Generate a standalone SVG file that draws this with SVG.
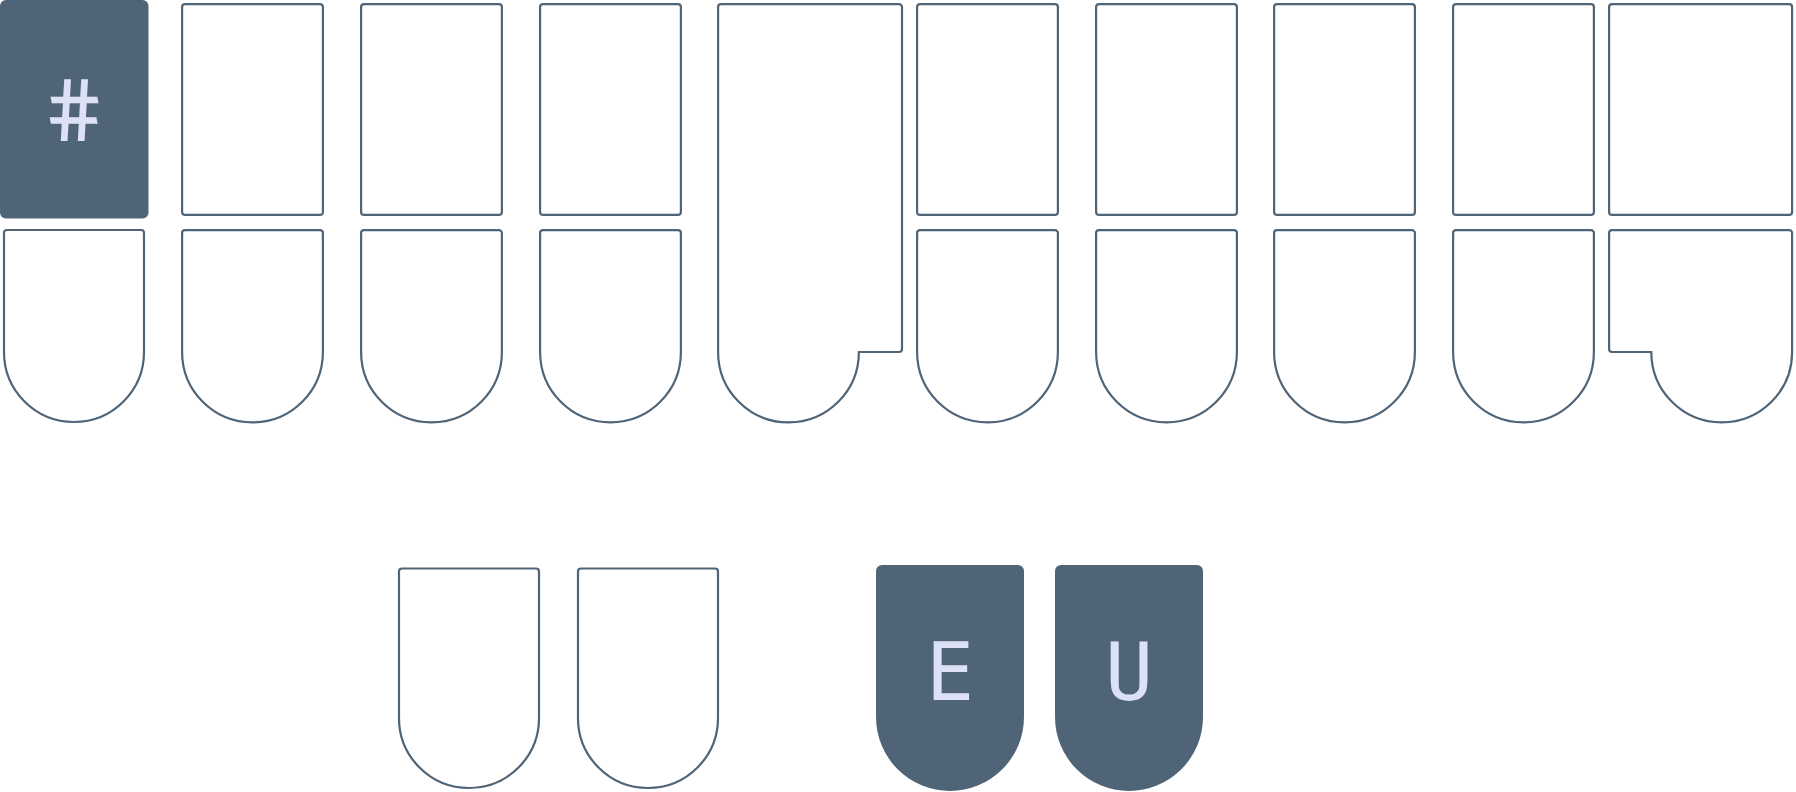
<svg xmlns="http://www.w3.org/2000/svg" width="1796" height="792" viewBox="0 0 1796 792">
<style>
.k{fill:#ffffff;stroke:#4f6477;stroke-width:2.2}
.f{fill:#4f6477;stroke:none}
.t{fill:#dde1f5;font-family:"DejaVu Sans Mono",monospace;font-size:80px;text-anchor:middle}
</style>
<rect width="1796" height="792" fill="#ffffff"/>
<g id="connectors"/>
<g id="key-num"><rect class="f" x="0" y="0" width="148.5" height="218.5" rx="6"/><text class="t" x="74" y="141" style="font-size:86px" transform="translate(74,110) skewX(11) translate(-74,-110)">#</text></g>
<g id="key-S-lower"><path class="k" d="M7,230 H141 a3,3 0 0 1 3,3 V352 a70,70 0 0 1 -140,0 V233 a3,3 0 0 1 3,-3 Z"/></g>
<g id="key-T"><rect class="k" x="182.1" y="4.1" width="140.8" height="210.8" rx="3"/></g>
<g id="key-K"><path class="k" d="M185.1,230.1 H319.9 a3,3 0 0 1 3,3 V352 a70.4,70.4 0 0 1 -140.8,0 V233.1 a3,3 0 0 1 3,-3 Z"/></g>
<g id="key-P"><rect class="k" x="361.1" y="4.1" width="140.8" height="210.8" rx="3"/></g>
<g id="key-W"><path class="k" d="M364.1,230.1 H498.9 a3,3 0 0 1 3,3 V352 a70.4,70.4 0 0 1 -140.8,0 V233.1 a3,3 0 0 1 3,-3 Z"/></g>
<g id="key-H"><rect class="k" x="540.1" y="4.1" width="140.8" height="210.8" rx="3"/></g>
<g id="key-R"><path class="k" d="M543.1,230.1 H677.9 a3,3 0 0 1 3,3 V352 a70.4,70.4 0 0 1 -140.8,0 V233.1 a3,3 0 0 1 3,-3 Z"/></g>
<g id="key-star"><path class="k" d="M721.1,4.1 H899 a3,3 0 0 1 3,3 V349 a3,3 0 0 1 -3,3 H858.9 a70.4,70.4 0 0 1 -140.8,0 V7.1 a3,3 0 0 1 3,-3 Z"/></g>
<g id="key-F"><rect class="k" x="917.1" y="4.1" width="140.8" height="210.8" rx="3"/></g>
<g id="key-R2"><path class="k" d="M920.1,230.1 H1054.9 a3,3 0 0 1 3,3 V352 a70.4,70.4 0 0 1 -140.8,0 V233.1 a3,3 0 0 1 3,-3 Z"/></g>
<g id="key-P2"><rect class="k" x="1096.1" y="4.1" width="140.8" height="210.8" rx="3"/></g>
<g id="key-B"><path class="k" d="M1099.1,230.1 H1233.9 a3,3 0 0 1 3,3 V352 a70.4,70.4 0 0 1 -140.8,0 V233.1 a3,3 0 0 1 3,-3 Z"/></g>
<g id="key-L"><rect class="k" x="1274.1" y="4.1" width="140.8" height="210.8" rx="3"/></g>
<g id="key-G"><path class="k" d="M1277.1,230.1 H1411.9 a3,3 0 0 1 3,3 V352 a70.4,70.4 0 0 1 -140.8,0 V233.1 a3,3 0 0 1 3,-3 Z"/></g>
<g id="key-T2"><rect class="k" x="1453.1" y="4.1" width="140.8" height="210.8" rx="3"/></g>
<g id="key-S2"><path class="k" d="M1456.1,230.1 H1590.9 a3,3 0 0 1 3,3 V352 a70.4,70.4 0 0 1 -140.8,0 V233.1 a3,3 0 0 1 3,-3 Z"/></g>
<g id="key-D"><rect class="k" x="1609.1" y="4.1" width="183" height="210.8" rx="3"/></g>
<g id="key-Z"><path class="k" d="M1612.1,230.1 H1789.1 a3,3 0 0 1 3,3 V352 a70.4,70.4 0 0 1 -140.8,0 H1612.1 a3,3 0 0 1 -3,-3 V233.1 a3,3 0 0 1 3,-3 Z"/></g>
<g id="key-A"><path class="k" d="M402,568.5 H536 a3,3 0 0 1 3,3 V718 a70,70 0 0 1 -140,0 V571.5 a3,3 0 0 1 3,-3 Z"/></g>
<g id="key-O"><path class="k" d="M581,568.5 H715 a3,3 0 0 1 3,3 V718 a70,70 0 0 1 -140,0 V571.5 a3,3 0 0 1 3,-3 Z"/></g>
<g id="key-E"><path class="f" d="M882,565 H1018 a6,6 0 0 1 6,6 V717 a74,74 0 0 1 -148,0 V571 a6,6 0 0 1 6,-6 Z"/><text class="t" x="950" y="700">E</text></g>
<g id="key-U"><path class="f" d="M1061,565 H1197 a6,6 0 0 1 6,6 V717 a74,74 0 0 1 -148,0 V571 a6,6 0 0 1 6,-6 Z"/><text class="t" x="1129" y="700">U</text></g>
</svg>
